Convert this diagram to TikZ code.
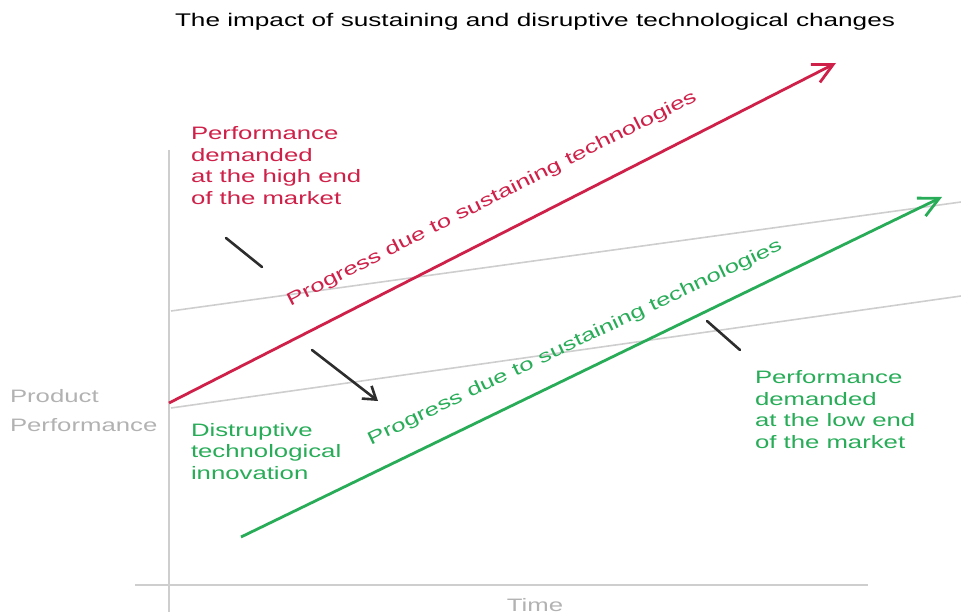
\documentclass[tikz,border=0pt]{standalone}
\usepackage{fontspec}
\usetikzlibrary{arrows.meta}
\newfontfamily\widesans[FakeStretch=1.43]{Liberation Sans}
\definecolor{hired}{RGB}{206,32,72}
\definecolor{logreen}{RGB}{40,172,88}
\definecolor{axisgray}{RGB}{206,206,206}
\definecolor{labelgray}{RGB}{178,178,178}
\definecolor{pointer}{RGB}{45,45,45}
\tikzset{
  every node/.style={inner sep=0pt, outer sep=0pt},
  txt/.style={font=\widesans\fontsize{18}{21.5}\selectfont, align=left, anchor=base west},
  axis/.style={draw=axisgray, line width=2pt},
  trend/.style={draw=axisgray, line width=1.6pt},
  progress/.style={line width=2.8pt, -{Straight Barb[length=20pt, width=20pt, line width=2.8pt]}},
  tick/.style={draw=pointer, line width=2.6pt, line cap=round},
  pointarrow/.style={tick, -{Straight Barb[length=12pt, width=16pt, line width=2.6pt]}}
}
\begin{document}
\begin{tikzpicture}[x=1pt, y=-1pt]
\useasboundingbox (0,0) rectangle (961,615);

% title
\node[txt, font=\widesans\fontsize{18.3}{22}\selectfont] (title) at (175,27)
  {The impact of sustaining and disruptive technological changes};

% axes
\coordinate (ytop) at (169,150);
\coordinate (ybot) at (169,612);
\coordinate (xleft) at (135,585);
\coordinate (xright) at (868,585);
\draw[axis] (ytop) -- (ybot);
\draw[axis] (xleft) -- (xright);

% demand trajectories
\coordinate (hiA) at (171,311);
\coordinate (hiB) at (961,202);
\coordinate (loA) at (171,408);
\coordinate (loB) at (961,296);
\draw[trend] (hiA) -- (hiB);
\draw[trend] (loA) -- (loB);

% technology progress
\coordinate (redA) at (169,403);
\coordinate (redB) at (836,63);
\coordinate (grnA) at (241,537);
\coordinate (grnB) at (942,197);
\draw[progress, hired] (redA) -- (redB);
\draw[progress, logreen] (grnA) -- (grnB);

% pointers
\coordinate (t1a) at (226,238);
\coordinate (t1b) at (262,267);
\coordinate (t2a) at (707,321);
\coordinate (t2b) at (740,350);
\coordinate (pa) at (312,350);
\coordinate (pb) at (378,401);
\draw[tick] (t1a) -- (t1b);
\draw[tick] (t2a) -- (t2b);
\draw[pointarrow] (pa) -- (pb);

% labels (multi-line nodes sit on the baseline of their last line)
\node[txt, text=hired] (hiend) at (191,204)
  {Performance\\demanded\\at the high end\\of the market};
\node[txt, text=hired, anchor=center, rotate=26.8] (redlbl) at (492,199)
  {Progress due to sustaining technologies};
\node[txt, text=logreen, anchor=center, rotate=25.4] (grnlbl) at (575,343)
  {Progress due to sustaining technologies};
\node[txt, text=labelgray, font=\widesans\fontsize{18}{29}\selectfont] (ylbl) at (10,431)
  {Product\\Performance};
\node[txt, text=logreen] (disr) at (191,479)
  {Distruptive\\technological\\innovation};
\node[txt, text=logreen] (loend) at (755,448)
  {Performance\\demanded\\at the low end\\of the market};
\node[txt, text=labelgray, anchor=base] (xlbl) at (535,611) {Time};
\end{tikzpicture}
\end{document}
